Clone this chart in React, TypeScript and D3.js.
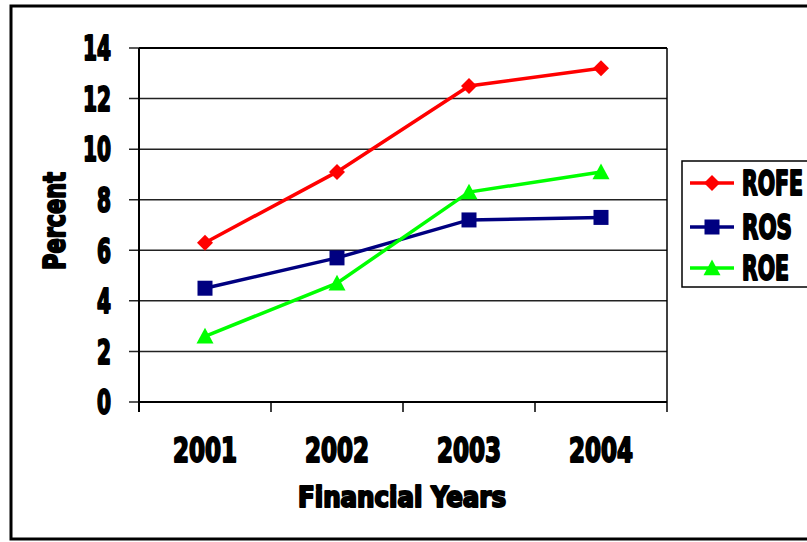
import React from "react";
import * as d3 from "d3";

const years = ["2001", "2002", "2003", "2004"];
const rofe = [6.3, 9.1, 12.5, 13.2];
const ros = [4.5, 5.7, 7.2, 7.3];
const roe = [2.6, 4.7, 8.3, 9.1];
const yTicks = [0, 2, 4, 6, 8, 10, 12, 14];
const seriesNames = ["ROFE", "ROS", "ROE"];

const W = 807, H = 542;
const FONT = "'DejaVu Sans Condensed', 'DejaVu Sans', Arial, sans-serif";
const legendWidths: Record<string, number> = { ROFE: 61, ROS: 50, ROE: 47 };

export default function App() {
  const left = 139, right = 667, top = 48, bottom = 402;
  const x = d3.scaleBand().domain(years).range([left, right]);
  const y = d3.scaleLinear().domain([0, 14]).range([bottom, top]);
  const cx = (yr: string) => (x(yr) as number) + x.bandwidth() / 2;
  const line = d3.line<number>().x((_, i) => cx(years[i])).y((v) => y(v));

  const series = [
    { name: seriesNames[0], data: rofe, color: "#ff0000", shape: "diamond" },
    { name: seriesNames[1], data: ros, color: "#000080", shape: "square" },
    { name: seriesNames[2], data: roe, color: "#00ff00", shape: "triangle" },
  ];

  const marker = (shape: string, px: number, py: number, color: string, key: any) => {
    if (shape === "diamond") {
      const s = 8;
      return <path key={key} d={`M${px},${py - s}L${px + s},${py}L${px},${py + s}L${px - s},${py}Z`} fill={color} />;
    }
    if (shape === "square") {
      const s = 7.5;
      return <rect key={key} x={px - s} y={py - s} width={2 * s} height={2 * s} fill={color} />;
    }
    const s = 8.5;
    return <path key={key} d={`M${px},${py - s}L${px + s},${py + s * 0.85}L${px - s},${py + s * 0.85}Z`} fill={color} />;
  };

  const textStyle = { fontFamily: FONT, fontWeight: 700, fill: "#000", stroke: "#000", strokeWidth: 2, strokeLinejoin: "round" } as any;

  const legendY = [183, 227, 268];

  return (
    <svg width={W} height={H} style={{ position: "absolute", left: 0, top: 0, background: "#fff" }}>
      <rect x={11} y={6} width={W + 20} height={533} fill="#fff" stroke="#000" strokeWidth={3} />
      {yTicks.map((t) => (
        <line key={"g" + t} x1={left - 10} x2={right} y1={y(t)} y2={y(t)} stroke="#222" strokeWidth={1.5} />
      ))}
      <line x1={right} x2={right} y1={top} y2={bottom} stroke="#000" strokeWidth={1.5} />
      <line x1={left} x2={right} y1={top} y2={top} stroke="#000" strokeWidth={2} />
      <line x1={left} x2={left} y1={top} y2={bottom + 10} stroke="#000" strokeWidth={2} />
      <line x1={left} x2={right} y1={bottom} y2={bottom} stroke="#000" strokeWidth={2} />
      {years.concat(["end"]).map((yr, i) => {
        const xx = i < years.length ? (x(yr) as number) : right;
        return <line key={"xt" + i} x1={xx} x2={xx} y1={bottom} y2={bottom + 10} stroke="#000" strokeWidth={1.5} />;
      })}
      {yTicks.map((t) => {
        const s = String(t);
        return (
          <text key={"yl" + t} x={111} y={y(t)} dy="0.36em" textAnchor="end" fontSize={34}
            textLength={s.length === 1 ? 14 : 28} lengthAdjust="spacingAndGlyphs" style={textStyle}>
            {s}
          </text>
        );
      })}
      {years.map((yr) => (
        <text key={"xl" + yr} x={cx(yr)} y={462} textAnchor="middle" fontSize={34}
          textLength={64} lengthAdjust="spacingAndGlyphs" style={textStyle}>
          {yr}
        </text>
      ))}
      <text x={402} y={507} textAnchor="middle" fontSize={28} textLength={208} lengthAdjust="spacingAndGlyphs" style={textStyle}>
        Financial Years
      </text>
      <text transform={`translate(65,221) rotate(-90)`} textAnchor="middle" fontSize={31} textLength={98}
        lengthAdjust="spacingAndGlyphs" style={textStyle}>
        Percent
      </text>
      {series.map((s) => (
        <g key={s.name}>
          <path d={line(s.data) as string} fill="none" stroke={s.color} strokeWidth={3.5} />
          {s.data.map((v, i) => marker(s.shape, cx(years[i]), y(v), s.color, s.name + i))}
        </g>
      ))}
      <rect x={682} y={161} width={140} height={126} fill="#fff" stroke="#000" strokeWidth={1.5} />
      {series.map((s, i) => (
        <g key={"lg" + s.name}>
          <line x1={690} x2={734} y1={legendY[i]} y2={legendY[i]} stroke={s.color} strokeWidth={3.5} />
          {marker(s.shape, 712, legendY[i], s.color, "lm" + i)}
          <text x={742} y={legendY[i]} dy="0.36em" fontSize={33} textLength={legendWidths[s.name]}
            lengthAdjust="spacingAndGlyphs" style={textStyle}>{s.name}</text>
        </g>
      ))}
    </svg>
  );
}
